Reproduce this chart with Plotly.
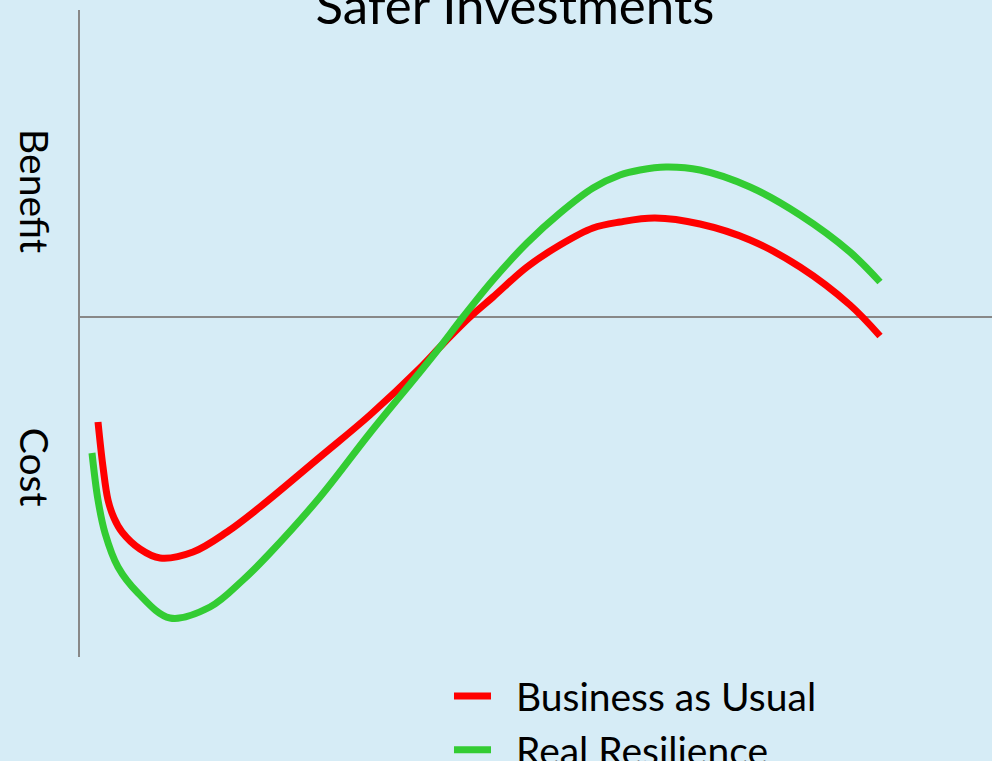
import plotly.graph_objects as go

# Curve samples: x = time horizon, y = net benefit (+) / cost (-)
bau_x = [0.18, 0.23, 0.28, 0.34, 0.42, 0.60, 0.80, 1.13, 1.47, 1.80, 2.40, 2.90, 3.40,
         3.60, 3.90, 4.13, 4.47, 4.80, 5.13, 5.40, 5.75, 6.20, 6.70, 7.20, 7.70, 8.00]
bau_y = [-1.05, -1.50, -1.83, -2.01, -2.15, -2.32, -2.41, -2.35, -2.15, -1.90, -1.40, -0.98, -0.51,
         -0.30, 0.00, 0.20, 0.50, 0.72, 0.89, 0.95, 0.99, 0.93, 0.77, 0.50, 0.12, -0.19]

rr_x = [0.12, 0.18, 0.25, 0.38, 0.58, 0.90, 1.30, 1.63, 1.90, 2.40, 2.90, 3.40, 3.60,
        3.83, 4.13, 4.47, 4.80, 5.13, 5.40, 5.60, 5.86, 6.20, 6.70, 7.20, 7.70, 8.00]
rr_y = [-1.36, -1.83, -2.16, -2.50, -2.76, -3.01, -2.90, -2.63, -2.36, -1.80, -1.16, -0.55, -0.30,
        0.00, 0.37, 0.74, 1.04, 1.29, 1.42, 1.47, 1.50, 1.47, 1.30, 1.02, 0.65, 0.35]

series = [
    ("Business as Usual", bau_x, bau_y, "#ff0000"),
    ("Real Resilience", rr_x, rr_y, "#33cc33"),
]

title_text = "Safer Investments"
upper_label = "Benefit"
lower_label = "Cost"

bg = "#d6ecf6"
font_family = "Lato, 'Open Sans', sans-serif"

fig = go.Figure()
for i, (name, xs, ys, color) in enumerate(series):
    fig.add_trace(go.Scatter(
        x=xs, y=ys, mode="lines",
        name="\u00a0\u00a0" + name,  # small gap between legend swatch and label
        line=dict(color=color, width=7, shape="spline", smoothing=1.0),
        legendgroup=f"g{i}",
    ))

fig.update_layout(
    width=992, height=761,
    paper_bgcolor=bg, plot_bgcolor=bg,
    margin=dict(l=80, r=0, t=10, b=104, autoexpand=False),
    showlegend=True,
    legend=dict(
        x=0.4046, y=-0.011, xanchor="left", yanchor="top",
        bgcolor="rgba(0,0,0,0)",
        font=dict(family=font_family, size=39, color="#000000"),
        tracegroupgap=0, itemwidth=37,
    ),
    xaxis=dict(range=[0, 9.12], visible=False, fixedrange=True),
    yaxis=dict(
        range=[-3.40, 3.07], showgrid=False, showticklabels=False, ticks="",
        zeroline=True, zerolinecolor="#888888", zerolinewidth=2,
        showline=True, linecolor="#888888", linewidth=2, mirror=False,
    ),
    title=dict(
        text=title_text, x=0.519, xanchor="center", y=1.0, yref="paper",
        yanchor="bottom", pad=dict(b=-14),
        font=dict(family=font_family, size=51, color="#000000"),
    ),
)

# Rotated side labels for the two halves of the vertical axis
for text, yfrac in [(upper_label, 0.720), (lower_label, 0.294)]:
    fig.add_annotation(
        text=text, textangle=90, showarrow=False,
        xref="paper", yref="paper",
        x=-0.0493, y=yfrac,
        xanchor="center", yanchor="middle",
        font=dict(family=font_family, size=39, color="#000000"),
    )

fig.write_html("out.html")
